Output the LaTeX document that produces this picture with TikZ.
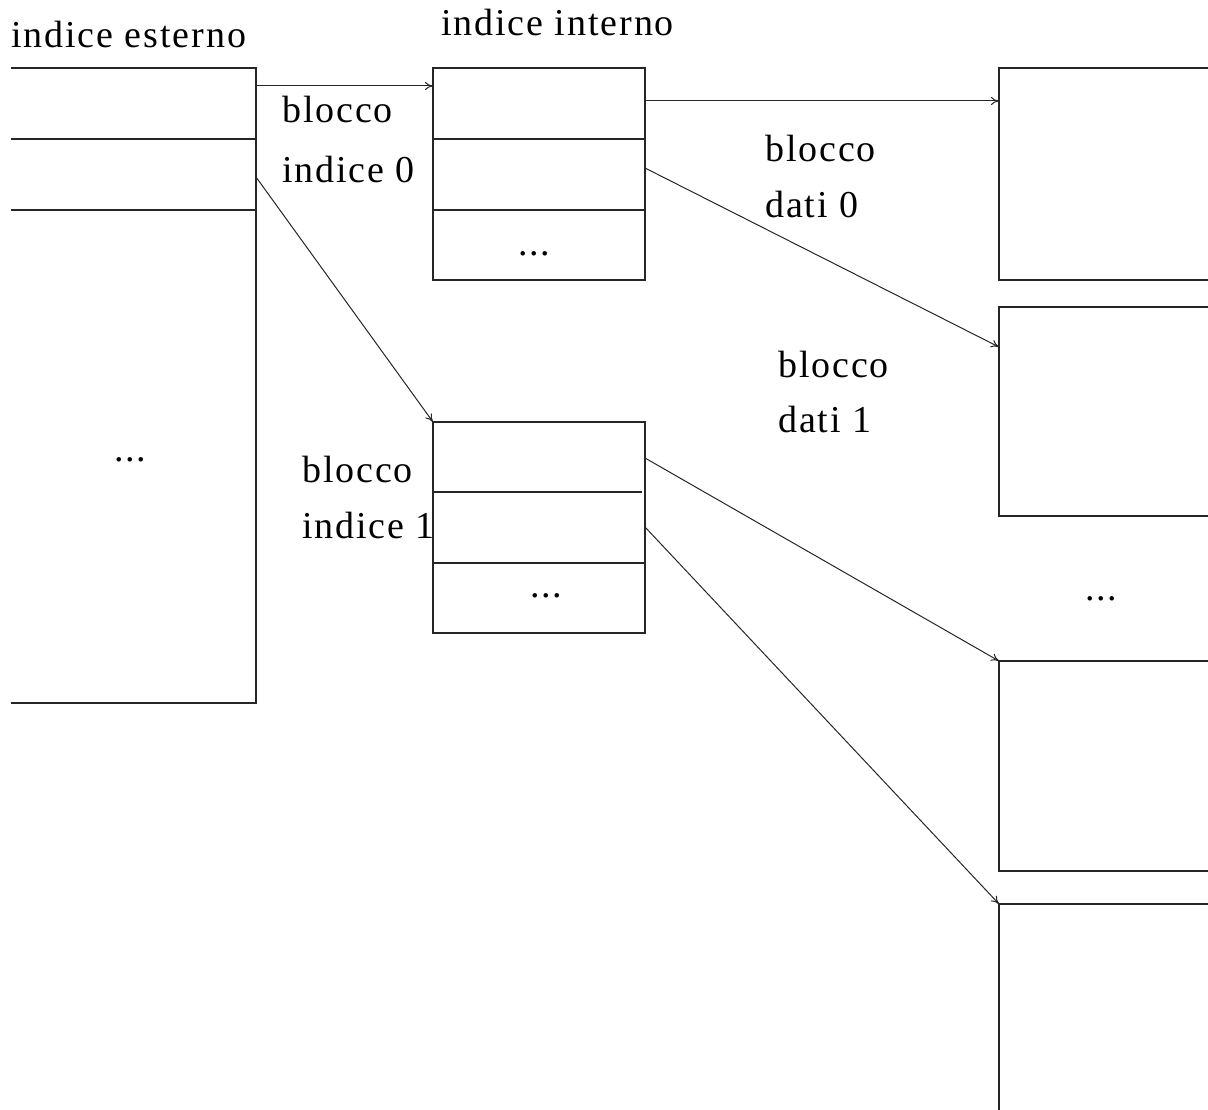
\documentclass[tikz,border=0pt]{standalone}
\usepackage{fontspec}
\setmainfont{Liberation Serif}[LetterSpace=5]
\usetikzlibrary{arrows.meta}
\begin{document}
\begin{tikzpicture}[x=1pt,y=-1pt,
  frame/.style={line width=2pt, draw=black!85},
  cell/.style={rectangle, inner sep=0pt, outer sep=0pt},
  arr/.style={line width=1pt, draw=black!85, -{To[length=8pt,width=8pt]}},
  lbl/.style={font=\fontsize{38}{40}\selectfont, anchor=base west, inner sep=0pt}]
\useasboundingbox (0,0) rectangle (1208,1110);

% outer index (open on the left)
\node[cell, minimum width=245pt, minimum height=635pt, anchor=north west] (ext) at (11,68) {};
\draw[frame] (ext.north west) -- (ext.north east) -- (ext.south east) -- (ext.south west);
\draw[frame] (11,139) -- (256,139);
\draw[frame] (11,210) -- (256,210);
\coordinate (e0) at (256,86);
\coordinate (e1) at (256,177);

% inner index 0
\node[cell, frame, draw, minimum width=212pt, minimum height=212pt, anchor=north west] (ii0) at (433,68) {};
\draw[frame] (433,139) -- (645,139);
\draw[frame] (433,210) -- (645,210);
\coordinate (i0in) at (433,86);
\coordinate (i0a) at (645,101);
\coordinate (i0b) at (645,168);

% inner index 1
\node[cell, frame, draw, minimum width=212pt, minimum height=211pt, anchor=north west] (ii1) at (433,422) {};
\draw[frame] (433,492) -- (642,492);
\draw[frame] (433,563) -- (645,563);
\coordinate (i1a) at (645,458);
\coordinate (i1b) at (645,527);

% data blocks (open on the right)
\draw[frame] (1208,68) -- (999,68) -- (999,280) -- (1208,280);
\draw[frame] (1208,307) -- (999,307) -- (999,516) -- (1208,516);
\draw[frame] (1208,661) -- (999,661) -- (999,871) -- (1208,871);
\draw[frame] (1208,904) -- (999,904) -- (999,1110);
\coordinate (d0) at (999,101);
\coordinate (d1) at (999,347);
\coordinate (d2) at (999,661);
\coordinate (d3) at (999,904);

% connectors
\draw[arr] (e0) -- (i0in);
\draw[arr] (e1) -- (ii1.north west);
\draw[arr] (i0a) -- (d0);
\draw[arr] (i0b) -- (d1);
\draw[arr] (i1a) -- (d2);
\draw[arr] (i1b) -- (d3);

% labels
\node[lbl] (t1) at (11,48) {indice esterno};
\node[lbl] (t2) at (441,36) {indice interno};
\node[lbl] (t3) at (282,123) {blocco};
\node[lbl] (t4) at (282,183) {indice 0};
\node[lbl] (t5) at (765,162) {blocco};
\node[lbl] (t6) at (765,218) {dati 0};
\node[lbl] (t7) at (778,377) {blocco};
\node[lbl] (t8) at (778,432) {dati 1};
\node[lbl] (t9) at (302,482) {blocco};
\node[lbl] (t10) at (302,538) {indice 1};
\node[lbl] (dd1) at (114,461) {...};
\node[lbl] (dd2) at (518,255) {...};
\node[lbl] (dd3) at (530,597) {...};
\node[lbl] (dd4) at (1085,600) {...};
\end{tikzpicture}
\end{document}
